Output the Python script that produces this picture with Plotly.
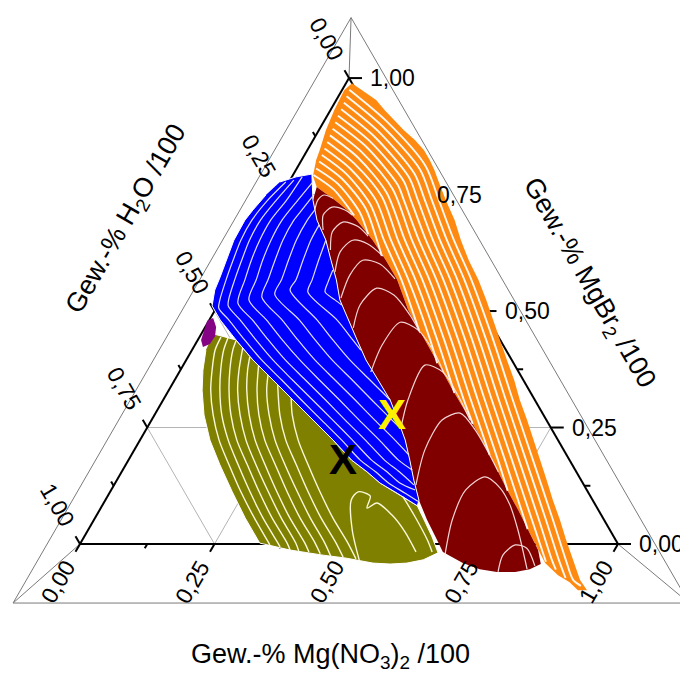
import numpy as np
import plotly.graph_objects as go

# ---------------- axes: ticks / labels ----------------
TICK_VALUES = [0.0, 0.25, 0.5, 0.75, 1.0]
TICK_LABELS = ["0,00", "0,25", "0,50", "0,75", "1,00"]
MINOR_TICK_VALUES = [0.125, 0.375, 0.625, 0.875]
GRID_VALUES = [0.25, 0.5, 0.75]
TITLE_MGNO3 = "Gew.-% Mg(NO<sub>3</sub>)<sub>2</sub> /100"
TITLE_H2O = "Gew.-% H<sub>2</sub>O /100"
TITLE_MGBR2 = "Gew.-% MgBr<sub>2</sub> /100"

# ---------------- phase regions (Gew.-%, H2O = 100 - MgNO3 - MgBr2) ----------------
ORANGE_MGNO3 = [1.1, 3.7, 7.4, 10.1, 12.9, 15.8, 18.9, 21.7, 23.8, 25.7, 27.5, 31.1, 34.9, 38.2, 41.8, 45.7,
                49.3, 52.7, 56.2, 59.6, 63.1, 66.3, 69.8, 73.2, 76.5, 79.9, 83.2, 86.6, 89.9, 93.3, 96.8, 99.2,
                97.5, 95.1, 92.2, 88.5, 85.8, 81.8, 77.8, 73.6, 69.6, 65.6, 61.4, 57.0, 52.8, 48.6, 44.4, 40.1,
                35.9, 30.6, 26.4, 21.8, 16.7, 13.8, 10.5, 5.7, 3.8, 2.7, 2.3, 1.3, 0.7, 0.4]
ORANGE_MGBR2 = [98.9, 97.4, 95.3, 93.1, 91.0, 88.8, 86.7, 84.5, 82.4, 80.3, 78.1, 73.8, 69.5, 65.2, 60.9, 56.7,
                52.4, 48.1, 43.8, 39.5, 35.2, 30.9, 26.6, 22.3, 18.0, 13.7, 9.4, 5.2, 0.9, -3.4, -7.7, -9.9,
                -9.9, -8.2, -6.7, -4.1, -1.3, 3.0, 7.3, 11.6, 15.9, 20.2, 24.5, 28.8, 33.0, 37.3, 41.6, 45.9,
                50.2, 56.7, 60.9, 65.2, 69.5, 71.7, 73.8, 76.6, 79.0, 82.4, 84.5, 88.8, 93.1, 97.4]

RED_MGNO3 = [5.7, 6.4, 9.3, 13.1, 16.2, 19.3, 22.1, 25.8, 29.6, 33.4, 37.8, 42.2, 45.8, 49.3, 52.3, 55.2,
             58.3, 61.9, 65.9, 68.3, 73.2, 77.0, 80.5, 83.9, 86.3, 87.8, 85.8, 81.8, 77.8, 73.6, 69.6, 65.6,
             61.4, 57.0, 52.8, 48.6, 44.4, 40.1, 35.9, 30.6, 26.4, 21.8, 16.7, 13.8, 10.5]
RED_MGBR2 = [76.6, 73.8, 69.5, 65.2, 60.9, 56.7, 52.4, 48.1, 43.8, 39.5, 35.2, 30.9, 26.6, 22.3, 18.0, 13.7,
             9.4, 5.2, 0.9, -1.7, -4.1, -5.4, -6.0, -6.0, -5.4, -4.3, -1.3, 3.0, 7.3, 11.6, 15.9, 20.2,
             24.5, 28.8, 33.0, 37.3, 41.6, 45.9, 50.2, 56.7, 60.9, 65.2, 69.5, 71.7, 73.8]

BLUE_MGNO3 = [-1.7, 0.8, 3.4, 6.4, 9.3, 13.1, 16.2, 19.3, 22.1, 25.8, 29.6, 33.4, 37.8, 42.2, 45.8, 49.3,
              52.3, 55.2, 58.3, 58.6, 53.5, 49.2, 45.6, 41.5, 35.9, 30.0, 24.1, 18.3, 12.4, 7.1, 2.0, -1.0,
              -2.2, -2.6, -3.3, -4.0, -4.1, -3.7, -2.9]
BLUE_MGBR2 = [77.7, 78.8, 79.4, 73.8, 69.5, 65.2, 60.9, 56.7, 52.4, 48.1, 43.8, 39.5, 35.2, 30.9, 26.6, 22.3,
              18.0, 13.7, 9.4, 8.2, 10.9, 13.1, 15.5, 18.0, 22.3, 26.6, 30.9, 35.2, 39.5, 43.8, 48.1, 51.1,
              54.5, 57.3, 60.9, 65.2, 69.5, 71.7, 74.9]

OLIVE_MGNO3 = [2.2, 7.1, 12.4, 18.3, 24.1, 30.0, 35.9, 41.5, 45.6, 49.2, 53.5, 58.6, 61.8, 64.7, 67.5, 65.5,
               62.8, 59.8, 56.5, 50.8, 46.4, 39.7, 33.3, 27.9, 22.7, 17.5, 13.0, 9.2, 6.2, 4.2, 2.6]
OLIVE_MGBR2 = [45.1, 43.8, 39.5, 35.2, 30.9, 26.6, 22.3, 18.0, 15.5, 13.1, 10.9, 8.2, 4.7, 1.5, -1.9, -3.4,
               -4.1, -4.3, -4.1, -3.0, -2.4, -1.3, 0.2, 5.6, 11.2, 17.0, 22.3, 27.7, 33.0, 37.3, 41.6]

PURPLE_MGNO3 = [-0.3, 0.5, 2.0, 2.8, 2.7, 1.7, 0.6]
PURPLE_MGBR2 = [47.9, 48.5, 46.6, 44.6, 42.9, 42.3, 43.8]

REGION_COLORS = {"orange": "#FF8A12", "red": "#800000", "olive": "#808000",
                 "blue": "#0000FF", "purple": "#850385"}

# ---------------- iso-lines inside the regions ----------------
ORANGE_ISO_MGNO3 = [
    [1.3, 11.8, 23.6, 29.8, 36.9, 44.4, 54.9, 65.0, 75.2, 85.3, 92.0, 95.5, 97.6],
    [1.5, 11.6, 23.0, 28.5, 35.6, 43.1, 53.6, 63.7, 73.9, 84.0, 90.7, 93.9],
    [1.7, 11.4, 22.4, 27.2, 34.3, 41.8, 52.3, 62.4, 72.6, 82.7, 89.4, 91.2],
    [1.9, 11.2, 21.8, 25.9, 33.0, 40.5, 51.0, 61.1, 71.3, 81.4, 88.5],
    [2.0, 11.0, 21.2, 24.6, 31.7, 39.2, 49.7, 59.8, 70.0, 81.6],
    [2.2, 10.8, 20.5, 23.3, 30.4, 37.9, 48.4, 58.5, 68.7, 73.8],
    [2.4, 10.6, 20.0, 29.1, 36.6, 47.1, 57.2, 66.6],
    [2.6, 10.4, 19.3, 27.8, 35.3, 45.8, 55.9, 60.1],
    [2.8, 10.1, 18.8, 26.5, 34.0, 44.5, 53.4],
    [3.0, 9.9, 18.1, 25.2, 32.7, 43.2, 47.0],
    [3.2, 9.7, 17.5, 23.9, 31.4, 40.2],
    [3.4, 9.5, 17.0, 22.6, 25.2],
    [3.6, 9.3, 16.3, 20.3],
    [3.8, 9.1, 15.7],
]
ORANGE_ISO_MGBR2 = [
    [97.5, 90.6, 81.2, 73.8, 65.2, 56.7, 43.8, 30.9, 18.0, 5.2, -3.4, -7.7, -9.0],
    [96.1, 89.5, 80.4, 73.8, 65.2, 56.7, 43.8, 30.9, 18.0, 5.2, -3.4, -7.3],
    [94.7, 88.4, 79.5, 73.8, 65.2, 56.7, 43.8, 30.9, 18.0, 5.2, -3.4, -5.5],
    [93.3, 87.3, 78.7, 73.8, 65.2, 56.7, 43.8, 30.9, 18.0, 5.2, -3.8],
    [91.9, 86.2, 77.9, 73.8, 65.2, 56.7, 43.8, 30.9, 18.0, 3.2],
    [90.5, 85.1, 77.1, 73.8, 65.2, 56.7, 43.8, 30.9, 18.0, 11.4],
    [89.1, 83.9, 76.2, 65.2, 56.7, 43.8, 30.9, 19.1],
    [87.7, 82.8, 75.4, 65.2, 56.7, 43.8, 30.9, 25.8],
    [86.3, 81.7, 74.6, 65.2, 56.7, 43.8, 32.4],
    [84.9, 80.6, 73.8, 65.2, 56.7, 43.8, 38.8],
    [83.5, 79.5, 72.9, 65.2, 56.7, 45.7],
    [82.1, 78.4, 72.1, 65.2, 61.8],
    [80.6, 77.3, 71.3, 66.5],
    [79.2, 76.1, 70.5],
]

BLUE_ISO_MGNO3 = [
    [-0.6, -2.0, -2.8, -2.7, -2.0, -1.2, -0.2, 0.5, 3.6, 8.7, 14.0, 19.9, 25.7, 31.6, 37.5, 43.1, 47.2, 50.8, 55.0, 58.2],
    [0.7, -0.4, -1.2, -1.1, -0.4, 0.4, 1.3, 2.0, 5.7, 10.8, 16.1, 21.9, 27.8, 33.7, 39.5, 45.2, 49.3, 52.9, 56.5],
    [1.9, 1.5, 0.7, 0.8, 1.4, 2.3, 3.5, 8.0, 13.1, 18.4, 24.3, 30.2, 36.0, 41.9, 47.6, 51.6, 55.7],
    [4.4, 3.6, 2.8, 2.9, 3.5, 4.4, 5.2, 10.6, 15.7, 21.1, 26.9, 32.8, 38.6, 44.5, 50.2, 53.8],
    [5.9, 5.4, 5.0, 5.1, 5.8, 6.6, 7.3, 13.5, 18.6, 23.9, 29.8, 35.7, 41.5, 47.4, 51.6],
    [7.8, 7.5, 7.6, 8.3, 9.1, 9.4, 16.7, 21.8, 27.1, 33.0, 38.8, 44.7, 47.3],
    [10.2, 10.3, 11.0, 11.8, 11.8, 20.0, 25.1, 30.4, 36.3, 42.2],
    [13.1, 13.9, 14.8, 15.3, 23.7, 28.8, 31.4],
    [17.6, 18.0, 18.5, 21.2, 23.0],
]
BLUE_ISO_MGBR2 = [
    [77.7, 73.8, 69.5, 65.2, 60.9, 56.7, 52.4, 50.6, 48.1, 43.8, 39.5, 35.2, 30.9, 26.6, 22.3, 18.0, 15.5, 13.1, 10.9, 9.2],
    [78.1, 73.8, 69.5, 65.2, 60.9, 56.7, 52.8, 51.1, 48.1, 43.8, 39.5, 35.2, 30.9, 26.6, 22.3, 18.0, 15.5, 13.1, 11.6],
    [78.8, 73.8, 69.5, 65.2, 60.9, 56.7, 51.7, 48.1, 43.8, 39.5, 35.2, 30.9, 26.6, 22.3, 18.0, 15.5, 12.7],
    [77.5, 73.8, 69.5, 65.2, 60.9, 56.7, 52.4, 48.1, 43.8, 39.5, 35.2, 30.9, 26.6, 22.3, 18.0, 15.9],
    [74.5, 71.7, 69.5, 65.2, 60.9, 56.7, 53.0, 48.1, 43.8, 39.5, 35.2, 30.9, 26.6, 22.3, 19.1],
    [71.7, 69.5, 65.2, 60.9, 56.7, 53.6, 48.1, 43.8, 39.5, 35.2, 30.9, 26.6, 24.7],
    [68.5, 65.2, 60.9, 56.7, 54.5, 48.1, 43.8, 39.5, 35.2, 30.9],
    [65.2, 60.9, 56.7, 54.1, 48.1, 43.8, 41.6],
    [58.8, 56.2, 54.1, 52.4, 51.3],
]

RED_ISO_MGNO3 = [
    [7.8, 7.3, 7.9, 9.9],
    [11.5, 9.9, 10.7, 13.4, 15.3],
    [15.0, 13.4, 14.3, 17.5, 20.5],
    [18.2, 17.0, 18.1, 21.3, 25.4],
    [22.1, 21.3, 22.1, 25.7, 30.1],
    [27.6, 26.4, 27.7, 31.7, 36.8, 40.6],
    [35.6, 34.8, 35.7, 39.9, 45.2, 49.3],
    [47.2, 45.5, 44.9, 49.0, 54.4, 59.2],
    [56.1, 54.0, 54.0, 56.6, 61.2, 66.8, 70.0],
    [69.1, 66.6, 65.9, 68.1, 72.1, 75.7, 79.9, 85.8],
    [80.7, 79.8, 81.0, 83.5, 86.9],
]
RED_ISO_MGBR2 = [
    [71.7, 73.8, 74.9, 74.2],
    [67.4, 70.6, 72.3, 71.7, 70.6],
    [63.1, 67.0, 69.1, 68.2, 66.1],
    [58.4, 62.7, 65.2, 64.4, 61.8],
    [52.8, 57.7, 60.9, 60.1, 56.9],
    [46.4, 51.3, 54.9, 53.4, 49.1, 45.3],
    [36.9, 42.7, 47.6, 45.9, 41.2, 36.7],
    [24.9, 30.9, 38.4, 36.9, 31.8, 26.6],
    [12.7, 20.2, 26.6, 28.1, 24.5, 18.9, 15.5],
    [-2.6, 5.2, 11.6, 14.4, 12.0, 8.4, 3.0, -5.4],
    [-6.0, -2.4, -0.2, -0.9, -4.7],
]

OLIVE_ISO_MGNO3 = [
    [4.0, 4.3, 5.9, 7.8, 10.9, 14.7, 19.2, 24.3, 29.6, 35.4],
    [5.4, 5.9, 7.5, 9.5, 12.5, 16.4, 20.9, 26.0, 31.2, 36.7, 37.5],
    [7.2, 7.6, 9.2, 11.2, 14.2, 18.0, 22.6, 27.7, 32.9, 38.4, 39.7],
    [9.2, 10.9, 12.8, 15.9, 19.7, 24.2, 29.4, 34.6, 40.0, 41.4],
    [11.5, 12.5, 14.5, 17.6, 21.4, 25.9, 31.0, 36.2, 41.7, 43.4],
    [14.0, 16.4, 19.4, 23.2, 27.8, 32.9, 38.1, 43.6, 45.7],
    [16.8, 18.2, 21.3, 25.1, 29.6, 34.8, 40.0, 45.4, 47.9],
    [19.7, 23.3, 27.1, 31.7, 36.8, 42.0, 47.5, 50.3],
    [23.6, 25.6, 29.4, 33.9, 39.0, 44.2, 49.7, 52.9],
    [54.1, 49.1, 45.7, 46.1, 48.8, 49.5, 50.8, 54.9, 59.1, 63.3],
    [55.0, 59.4, 64.1, 66.3],
]
OLIVE_ISO_MGBR2 = [
    [44.4, 41.6, 37.3, 33.0, 27.7, 22.3, 17.0, 11.2, 5.6, -0.2],
    [44.2, 41.6, 37.3, 33.0, 27.7, 22.3, 17.0, 11.2, 5.6, 0.2, -0.6],
    [43.6, 41.6, 37.3, 33.0, 27.7, 22.3, 17.0, 11.2, 5.6, 0.2, -1.3],
    [42.1, 37.3, 33.0, 27.7, 22.3, 17.0, 11.2, 5.6, 0.2, -1.5],
    [40.1, 37.3, 33.0, 27.7, 22.3, 17.0, 11.2, 5.6, 0.2, -1.7],
    [38.4, 33.0, 27.7, 22.3, 17.0, 11.2, 5.6, 0.2, -2.1],
    [36.3, 33.0, 27.7, 22.3, 17.0, 11.2, 5.6, 0.2, -2.6],
    [34.1, 27.7, 22.3, 17.0, 11.2, 5.6, 0.2, -2.8],
    [31.3, 27.7, 22.3, 17.0, 11.2, 5.6, 0.2, -3.2],
    [-4.1, 3.0, 9.4, 11.2, 10.3, 7.7, 8.8, 6.2, 2.6, -1.7],
    [10.1, 5.8, 0.9, -1.7],
]

# marked compositions
X_MGNO3 = [44.5, 40.3]
X_MGBR2 = [27.0, 17.2]
X_COLORS = ["#FFF000", "#000000"]

# 3D view of the ternary prism (vanishing point and scale of the front frame)
VIEW_CENTER = (0.238, 0.494)   # (MgNO3, MgBr2) fraction
VIEW_SCALE = 1.2565

# ---------------- geometry of the page ----------------
W, H = 680, 677
SIDE_PX = 538.0
ORIGIN_PX = (80.0, 544.0)   # pixel of the H2O corner
U = 1.0 / SIDE_PX
SQ3 = np.sqrt(3) / 2
FONT = "Liberation Sans, Arial, Helvetica, sans-serif"


def tern(c, a):
    """fractions MgNO3 (c) and MgBr2 (a) -> cartesian"""
    c = np.asarray(c, float)
    a = np.asarray(a, float)
    return c + a / 2, a * SQ3


def tern_pct(c, a):
    return tern(np.asarray(c, float) / 100, np.asarray(a, float) / 100)


fig = go.Figure()


def seg_trace(segs, color, width):
    xs, ys = [], []
    for (x0, y0), (x1, y1) in segs:
        xs += [float(x0), float(x1), None]
        ys += [float(y0), float(y1), None]
    fig.add_trace(go.Scatter(x=xs, y=ys, mode="lines", line=dict(color=color, width=width),
                             hoverinfo="skip", showlegend=False))


# grid
grid = []
for t in GRID_VALUES:
    for (c0, a0), (c1, a1) in [((0, t), (1 - t, t)), ((t, 0), (t, 1 - t)), ((1 - t, 0), (0, 1 - t))]:
        grid.append((tern(c0, a0), tern(c1, a1)))
seg_trace(grid, "#b4b4b4", 1)

# outer (front) frame of the 3D prism and its edges
corners = [(0.0, 0.0), (1.0, 0.0), (0.0, 1.0)]
outer = [(VIEW_CENTER[0] + VIEW_SCALE * (c - VIEW_CENTER[0]),
          VIEW_CENTER[1] + VIEW_SCALE * (a - VIEW_CENTER[1])) for c, a in corners]
frame = []
for i in range(3):
    frame.append((tern(*outer[i]), tern(*outer[(i + 1) % 3])))
    frame.append((tern(*corners[i]), tern(*outer[i])))
seg_trace(frame, "#7a7a7a", 1)

# inner black triangle
tri = [(tern(*corners[i]), tern(*corners[(i + 1) % 3])) for i in range(3)]
seg_trace(tri, "#000000", 2)

# ticks
ticks = []
for vals, L in [(TICK_VALUES, 13), (MINOR_TICK_VALUES, 6)]:
    for t in vals:
        x, y = tern(1 - t, t)                       # MgBr2 (right edge)
        ticks.append(((x, y), (x + L * U, y)))
for vals, L in [(TICK_VALUES, 9), (MINOR_TICK_VALUES, 5)]:
    for t in vals:
        x, y = tern(t, 0)                           # Mg(NO3)2 (bottom edge)
        ticks.append(((x, y), (x - 0.5 * L * U, y - SQ3 * L * U)))
        x, y = tern(0, 1 - t)                       # H2O (left edge)
        ticks.append(((x, y), (x - 0.5 * L * U, y + SQ3 * L * U)))
seg_trace(ticks, "#000000", 2)


def region(c, a, color, lc="rgba(0,0,0,0)", lw=0):
    x, y = tern_pct(c, a)
    fig.add_trace(go.Scatter(x=x, y=y, mode="lines", fill="toself", fillcolor=color,
                             line=dict(color=lc, width=lw), hoverinfo="skip", showlegend=False))


region(ORANGE_MGNO3, ORANGE_MGBR2, REGION_COLORS["orange"])
region(RED_MGNO3, RED_MGBR2, REGION_COLORS["red"])
region(OLIVE_MGNO3, OLIVE_MGBR2, REGION_COLORS["olive"], "white", 1)
region(BLUE_MGNO3, BLUE_MGBR2, REGION_COLORS["blue"], "white", 1)
region(PURPLE_MGNO3, PURPLE_MGBR2, REGION_COLORS["purple"])


def iso(cs, as_, color, width):
    for c, a in zip(cs, as_):
        x, y = tern_pct(c, a)
        fig.add_trace(go.Scatter(x=x, y=y, mode="lines",
                                 line=dict(color=color, width=width, shape="spline", smoothing=0.8),
                                 hoverinfo="skip", showlegend=False))


iso(ORANGE_ISO_MGNO3, ORANGE_ISO_MGBR2, "rgba(255,255,255,0.95)", 1.9)
iso(RED_ISO_MGNO3, RED_ISO_MGBR2, "rgba(255,235,235,0.9)", 1.2)
iso(BLUE_ISO_MGNO3, BLUE_ISO_MGBR2, "rgba(235,235,255,0.95)", 1.2)
iso(OLIVE_ISO_MGNO3, OLIVE_ISO_MGBR2, "rgba(255,255,230,0.95)", 1.4)

# X marks
xm, ym = tern_pct(X_MGNO3, X_MGBR2)
fig.add_trace(go.Scatter(x=xm, y=ym, mode="text", text=["X"] * len(X_MGNO3), textposition="middle center",
                         textfont=dict(size=42, color=X_COLORS, family=FONT, weight="bold"),
                         hoverinfo="skip", showlegend=False))

# tick labels
ann = []
tf = dict(size=23, family=FONT, color="black")
for t, lab in zip(TICK_VALUES, TICK_LABELS):
    x, y = tern(1 - t, t)
    ann.append(dict(x=float(x) + 19 * U, y=float(y), text=lab, xanchor="left", yanchor="middle",
                    showarrow=False, font=tf))
    d = 44 * U
    x, y = tern(t, 0)
    ann.append(dict(x=float(x) - 0.5 * d, y=float(y) - SQ3 * d, text=lab, textangle=-60,
                    xanchor="center", yanchor="middle", showarrow=False, font=tf))
    d = 45 * U
    x, y = tern(0, 1 - t)
    ann.append(dict(x=float(x) - 0.5 * d, y=float(y) + SQ3 * d, text=lab, textangle=60,
                    xanchor="center", yanchor="middle", showarrow=False, font=tf))

ttf = dict(size=27, family=FONT, color="black")
ann.append(dict(x=330 / W, y=1 - 656 / H, xref="paper", yref="paper", text=TITLE_MGNO3,
                showarrow=False, xanchor="center", yanchor="middle", font=ttf))
ann.append(dict(x=127 / W, y=1 - 220 / H, xref="paper", yref="paper", text=TITLE_H2O, textangle=-60,
                showarrow=False, xanchor="center", yanchor="middle", font=ttf))
ann.append(dict(x=588 / W, y=1 - 283 / H, xref="paper", yref="paper", text=TITLE_MGBR2, textangle=60,
                showarrow=False, xanchor="center", yanchor="middle", font=ttf))

fig.update_layout(
    width=W, height=H, margin=dict(l=0, r=0, t=0, b=0),
    paper_bgcolor="white", plot_bgcolor="white", showlegend=False,
    xaxis=dict(range=[-ORIGIN_PX[0] * U, (W - ORIGIN_PX[0]) * U], visible=False, fixedrange=True),
    yaxis=dict(range=[-(H - ORIGIN_PX[1]) * U, ORIGIN_PX[1] * U], visible=False, fixedrange=True),
    annotations=ann,
)
fig.write_html("out.html")
